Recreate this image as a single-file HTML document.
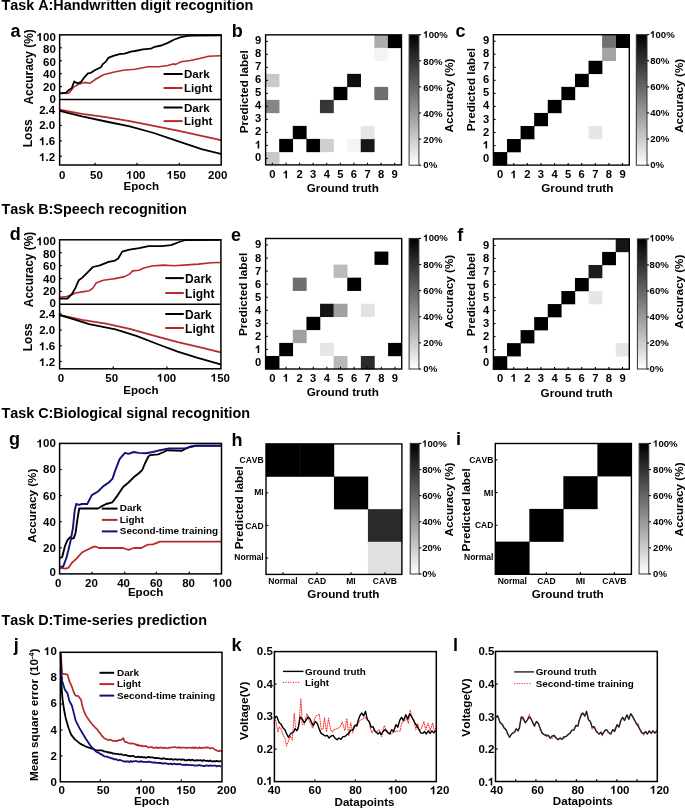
<!DOCTYPE html>
<html><head><meta charset="utf-8"><style>
html,body{margin:0;padding:0;background:#fff;}
svg{display:block;will-change:transform;}
text{font-family:"Liberation Sans",sans-serif;font-weight:bold;font-kerning:none;}
</style></head><body>
<svg width="685" height="808" viewBox="0 0 685 808">
<rect width="685" height="808" fill="#fff"/>
<text x="1.40" y="10.40" font-size="14.4" text-anchor="start" fill="#000">Task A:Handwritten digit recognition</text>
<text x="1.40" y="214.30" font-size="14.4" text-anchor="start" fill="#000">Task B:Speech recognition</text>
<text x="1.40" y="418.30" font-size="14.4" text-anchor="start" fill="#000">Task C:Biological signal recognition</text>
<text x="1.40" y="624.80" font-size="14.4" text-anchor="start" fill="#000">Task D:Time-series prediction</text>
<text x="10.40" y="36.50" font-size="18" text-anchor="start" fill="#000">a</text>
<text x="231.70" y="36.70" font-size="18" text-anchor="start" fill="#000">b</text>
<text x="455.40" y="36.70" font-size="18" text-anchor="start" fill="#000">c</text>
<text x="9.80" y="240.30" font-size="18" text-anchor="start" fill="#000">d</text>
<text x="231.00" y="240.70" font-size="18" text-anchor="start" fill="#000">e</text>
<text x="457.30" y="240.60" font-size="18" text-anchor="start" fill="#000">f</text>
<text x="9.00" y="445.20" font-size="18" text-anchor="start" fill="#000">g</text>
<text x="231.40" y="445.80" font-size="18" text-anchor="start" fill="#000">h</text>
<text x="456.00" y="444.80" font-size="18" text-anchor="start" fill="#000">i</text>
<text x="13.70" y="650.70" font-size="18" text-anchor="start" fill="#000">j</text>
<text x="231.50" y="650.90" font-size="18" text-anchor="start" fill="#000">k</text>
<text x="453.10" y="651.00" font-size="18" text-anchor="start" fill="#000">l</text>
<polyline points="60.00,93.50 68.60,93.30 70.50,91.40 73.60,87.10 78.60,84.30 84.80,82.40 89.70,83.30 96.00,79.00 103.40,74.70 113.30,72.20 123.20,70.30 135.00,69.20 148.10,66.80 158.70,66.80 167.80,65.50 173.10,63.90 175.70,64.40 181.00,61.80 190.20,60.50 200.70,58.20 208.60,56.30 220.40,55.80" fill="none" stroke="#b82a2a" stroke-width="1.6" stroke-linejoin="round" stroke-linecap="round"/>
<polyline points="60.00,93.30 66.20,92.70 68.60,90.20 71.70,88.30 74.20,81.50 77.30,83.30 81.00,82.10 83.50,78.40 87.90,73.40 91.00,72.80 94.70,70.30 100.90,67.20 102.80,64.10 105.90,61.60 108.30,57.90 113.30,55.80 119.50,54.20 124.50,53.60 131.90,51.30 135.00,51.00 142.90,49.40 150.80,48.70 154.70,46.80 161.30,45.50 167.80,42.90 174.40,39.50 181.00,37.20 187.60,35.90 194.10,35.50 221.00,35.30" fill="none" stroke="#000" stroke-width="1.8" stroke-linejoin="round" stroke-linecap="round"/>
<polyline points="59.80,109.60 81.90,113.90 105.90,117.20 129.80,121.10 153.80,125.90 177.70,130.60 201.60,135.90 220.80,140.20" fill="none" stroke="#b82a2a" stroke-width="1.7" stroke-linejoin="round" stroke-linecap="round"/>
<polyline points="59.80,110.80 81.90,116.30 105.90,121.50 129.80,126.30 153.80,133.00 177.70,141.20 201.60,149.10 220.80,153.90" fill="none" stroke="#000" stroke-width="1.8" stroke-linejoin="round" stroke-linecap="round"/>
<rect x="59.65" y="34.85" width="161.55" height="130.15" fill="none" stroke="#000" stroke-width="1.5"/>
<line x1="59.65" y1="99.60" x2="221.20" y2="99.60" stroke="#000" stroke-width="1.5"/>
<line x1="59.65" y1="86.65" x2="61.85" y2="86.65" stroke="#000" stroke-width="1.2"/>
<line x1="59.65" y1="73.70" x2="61.85" y2="73.70" stroke="#000" stroke-width="1.2"/>
<line x1="59.65" y1="60.75" x2="61.85" y2="60.75" stroke="#000" stroke-width="1.2"/>
<line x1="59.65" y1="47.80" x2="61.85" y2="47.80" stroke="#000" stroke-width="1.2"/>
<path d="M759 0H478V1000Q330 880 112 812V1052Q250 1100 362 1192Q466 1290 514 1409H759Z" fill="#000" transform="translate(36.613 40.959) scale(0.005615 -0.005615)"/>
<text x="55.80" y="40.96" font-size="11.5" text-anchor="end" fill="#000"> 00</text>
<text x="55.80" y="53.36" font-size="11.5" text-anchor="end" fill="#000">80</text>
<text x="55.80" y="65.86" font-size="11.5" text-anchor="end" fill="#000">60</text>
<text x="55.80" y="78.36" font-size="11.5" text-anchor="end" fill="#000">40</text>
<text x="55.80" y="91.06" font-size="11.5" text-anchor="end" fill="#000">20</text>
<text x="55.80" y="103.36" font-size="11.5" text-anchor="end" fill="#000">0</text>
<line x1="59.65" y1="110.90" x2="61.85" y2="110.90" stroke="#000" stroke-width="1.2"/>
<text x="55.20" y="114.26" font-size="11.5" text-anchor="end" fill="#000">2.4</text>
<line x1="59.65" y1="125.40" x2="61.85" y2="125.40" stroke="#000" stroke-width="1.2"/>
<text x="55.20" y="129.46" font-size="11.5" text-anchor="end" fill="#000">2.0</text>
<line x1="59.65" y1="140.90" x2="61.85" y2="140.90" stroke="#000" stroke-width="1.2"/>
<path d="M759 0H478V1000Q330 880 112 812V1052Q250 1100 362 1192Q466 1290 514 1409H759Z" fill="#000" transform="translate(39.213 145.260) scale(0.005615 -0.005615)"/>
<text x="55.20" y="145.26" font-size="11.5" text-anchor="end" fill="#000"> .6</text>
<line x1="59.65" y1="156.30" x2="61.85" y2="156.30" stroke="#000" stroke-width="1.2"/>
<path d="M759 0H478V1000Q330 880 112 812V1052Q250 1100 362 1192Q466 1290 514 1409H759Z" fill="#000" transform="translate(39.213 161.060) scale(0.005615 -0.005615)"/>
<text x="55.20" y="161.06" font-size="11.5" text-anchor="end" fill="#000"> .2</text>
<line x1="95.10" y1="165.00" x2="95.10" y2="162.80" stroke="#000" stroke-width="1.2"/>
<line x1="137.00" y1="165.00" x2="137.00" y2="162.80" stroke="#000" stroke-width="1.2"/>
<line x1="179.40" y1="165.00" x2="179.40" y2="162.80" stroke="#000" stroke-width="1.2"/>
<text x="62.20" y="178.86" font-size="11.5" text-anchor="middle" fill="#000">0</text>
<text x="96.40" y="178.86" font-size="11.5" text-anchor="middle" fill="#000">50</text>
<path d="M759 0H478V1000Q330 880 112 812V1052Q250 1100 362 1192Q466 1290 514 1409H759Z" fill="#000" transform="translate(126.306 178.860) scale(0.005615 -0.005615)"/>
<text x="135.90" y="178.86" font-size="11.5" text-anchor="middle" fill="#000"> 00</text>
<path d="M759 0H478V1000Q330 880 112 812V1052Q250 1100 362 1192Q466 1290 514 1409H759Z" fill="#000" transform="translate(166.806 178.860) scale(0.005615 -0.005615)"/>
<text x="176.40" y="178.86" font-size="11.5" text-anchor="middle" fill="#000"> 50</text>
<text x="217.70" y="178.86" font-size="11.5" text-anchor="middle" fill="#000">200</text>
<text x="141.25" y="190.00" font-size="11.6" text-anchor="middle" fill="#000">Epoch</text>
<text x="32.60" y="66.90" font-size="11.9" text-anchor="middle" fill="#000" transform="rotate(-90 32.60 66.90)">Accuracy (%)</text>
<text x="31.70" y="133.20" font-size="12.0" text-anchor="middle" fill="#000" transform="rotate(-90 31.70 133.20)">Loss</text>
<line x1="163.60" y1="74.00" x2="182.60" y2="74.00" stroke="#000" stroke-width="2.0"/>
<text x="184.00" y="78.39" font-size="11.6" text-anchor="start" fill="#000">Dark</text>
<line x1="163.60" y1="88.00" x2="182.60" y2="88.00" stroke="#b82a2a" stroke-width="2.0"/>
<text x="184.00" y="92.39" font-size="11.6" text-anchor="start" fill="#000">Light</text>
<line x1="163.60" y1="107.50" x2="182.60" y2="107.50" stroke="#000" stroke-width="2.0"/>
<text x="184.00" y="111.89" font-size="11.6" text-anchor="start" fill="#000">Dark</text>
<line x1="163.60" y1="121.10" x2="182.60" y2="121.10" stroke="#b82a2a" stroke-width="2.0"/>
<text x="184.00" y="125.49" font-size="11.6" text-anchor="start" fill="#000">Light</text>
<polyline points="59.60,297.20 66.60,296.50 71.80,294.70 75.30,293.00 82.30,291.90 89.30,290.70 92.90,288.10 96.40,282.80 103.40,280.20 112.10,279.00 115.00,278.60 124.60,276.60 129.50,274.10 132.70,270.90 139.10,270.20 143.90,268.10 151.90,266.00 163.20,265.10 174.40,265.70 187.30,264.90 198.50,264.10 211.40,262.80 220.20,262.50" fill="none" stroke="#b82a2a" stroke-width="1.6" stroke-linejoin="round" stroke-linecap="round"/>
<polyline points="59.60,298.60 67.40,298.60 71.80,294.20 75.30,288.10 78.80,280.20 82.30,277.60 87.60,272.30 92.90,267.00 99.90,265.30 108.60,261.80 115.00,260.60 118.20,258.50 122.20,251.60 129.50,249.70 139.10,248.10 148.70,246.10 161.60,246.10 171.20,245.20 179.20,242.00 185.70,240.00 220.50,239.80" fill="none" stroke="#000" stroke-width="1.8" stroke-linejoin="round" stroke-linecap="round"/>
<polyline points="59.60,314.80 81.90,319.80 105.90,323.70 129.80,328.90 153.80,335.60 177.70,342.10 201.60,347.60 220.60,352.40" fill="none" stroke="#b82a2a" stroke-width="1.7" stroke-linejoin="round" stroke-linecap="round"/>
<polyline points="59.60,315.10 72.40,318.90 89.10,324.20 115.50,329.40 137.00,336.10 158.60,344.50 177.70,351.70 196.90,357.70 220.60,364.40" fill="none" stroke="#000" stroke-width="1.8" stroke-linejoin="round" stroke-linecap="round"/>
<rect x="59.60" y="239.80" width="161.30" height="129.00" fill="none" stroke="#000" stroke-width="1.5"/>
<line x1="59.60" y1="304.30" x2="220.90" y2="304.30" stroke="#000" stroke-width="1.5"/>
<line x1="59.60" y1="291.40" x2="61.80" y2="291.40" stroke="#000" stroke-width="1.2"/>
<line x1="59.60" y1="278.50" x2="61.80" y2="278.50" stroke="#000" stroke-width="1.2"/>
<line x1="59.60" y1="265.60" x2="61.80" y2="265.60" stroke="#000" stroke-width="1.2"/>
<line x1="59.60" y1="252.70" x2="61.80" y2="252.70" stroke="#000" stroke-width="1.2"/>
<path d="M759 0H478V1000Q330 880 112 812V1052Q250 1100 362 1192Q466 1290 514 1409H759Z" fill="#000" transform="translate(36.613 245.260) scale(0.005615 -0.005615)"/>
<text x="55.80" y="245.26" font-size="11.5" text-anchor="end" fill="#000"> 00</text>
<text x="55.80" y="257.86" font-size="11.5" text-anchor="end" fill="#000">80</text>
<text x="55.80" y="270.36" font-size="11.5" text-anchor="end" fill="#000">60</text>
<text x="55.80" y="282.76" font-size="11.5" text-anchor="end" fill="#000">40</text>
<text x="55.80" y="295.46" font-size="11.5" text-anchor="end" fill="#000">20</text>
<text x="55.80" y="307.46" font-size="11.5" text-anchor="end" fill="#000">0</text>
<line x1="59.60" y1="314.00" x2="61.80" y2="314.00" stroke="#000" stroke-width="1.2"/>
<text x="55.20" y="318.06" font-size="11.5" text-anchor="end" fill="#000">2.4</text>
<line x1="59.60" y1="330.00" x2="61.80" y2="330.00" stroke="#000" stroke-width="1.2"/>
<text x="55.20" y="334.46" font-size="11.5" text-anchor="end" fill="#000">2.0</text>
<line x1="59.60" y1="345.80" x2="61.80" y2="345.80" stroke="#000" stroke-width="1.2"/>
<path d="M759 0H478V1000Q330 880 112 812V1052Q250 1100 362 1192Q466 1290 514 1409H759Z" fill="#000" transform="translate(39.213 350.260) scale(0.005615 -0.005615)"/>
<text x="55.20" y="350.26" font-size="11.5" text-anchor="end" fill="#000"> .6</text>
<line x1="59.60" y1="361.50" x2="61.80" y2="361.50" stroke="#000" stroke-width="1.2"/>
<path d="M759 0H478V1000Q330 880 112 812V1052Q250 1100 362 1192Q466 1290 514 1409H759Z" fill="#000" transform="translate(39.213 366.060) scale(0.005615 -0.005615)"/>
<text x="55.20" y="366.06" font-size="11.5" text-anchor="end" fill="#000"> .2</text>
<line x1="113.20" y1="368.80" x2="113.20" y2="366.60" stroke="#000" stroke-width="1.2"/>
<line x1="166.90" y1="368.80" x2="166.90" y2="366.60" stroke="#000" stroke-width="1.2"/>
<text x="60.90" y="381.56" font-size="11.5" text-anchor="middle" fill="#000">0</text>
<text x="111.70" y="381.56" font-size="11.5" text-anchor="middle" fill="#000">50</text>
<path d="M759 0H478V1000Q330 880 112 812V1052Q250 1100 362 1192Q466 1290 514 1409H759Z" fill="#000" transform="translate(157.006 381.560) scale(0.005615 -0.005615)"/>
<text x="166.60" y="381.56" font-size="11.5" text-anchor="middle" fill="#000"> 00</text>
<path d="M759 0H478V1000Q330 880 112 812V1052Q250 1100 362 1192Q466 1290 514 1409H759Z" fill="#000" transform="translate(210.806 381.560) scale(0.005615 -0.005615)"/>
<text x="220.40" y="381.56" font-size="11.5" text-anchor="middle" fill="#000"> 50</text>
<text x="140.90" y="394.00" font-size="11.6" text-anchor="middle" fill="#000">Epoch</text>
<text x="32.60" y="269.50" font-size="11.9" text-anchor="middle" fill="#000" transform="rotate(-90 32.60 269.50)">Accuracy (%)</text>
<text x="31.70" y="337.20" font-size="12.0" text-anchor="middle" fill="#000" transform="rotate(-90 31.70 337.20)">Loss</text>
<line x1="165.30" y1="278.10" x2="183.80" y2="278.10" stroke="#000" stroke-width="2.0"/>
<text x="185.10" y="282.64" font-size="12.0" text-anchor="start" fill="#000">Dark</text>
<line x1="165.30" y1="293.00" x2="183.80" y2="293.00" stroke="#b82a2a" stroke-width="2.0"/>
<text x="185.10" y="297.54" font-size="12.0" text-anchor="start" fill="#000">Light</text>
<line x1="165.30" y1="314.00" x2="183.80" y2="314.00" stroke="#000" stroke-width="2.0"/>
<text x="185.10" y="318.54" font-size="12.0" text-anchor="start" fill="#000">Dark</text>
<line x1="165.30" y1="328.00" x2="183.80" y2="328.00" stroke="#b82a2a" stroke-width="2.0"/>
<text x="185.10" y="332.54" font-size="12.0" text-anchor="start" fill="#000">Light</text>
<rect x="265.60" y="151.90" width="13.84" height="13.26" fill="rgb(201,201,201)"/>
<rect x="265.60" y="99.88" width="13.84" height="13.26" fill="rgb(134,134,134)"/>
<rect x="265.60" y="73.86" width="13.84" height="13.26" fill="rgb(201,201,201)"/>
<rect x="279.19" y="138.89" width="13.84" height="13.26" fill="rgb(0,0,0)"/>
<rect x="292.78" y="125.89" width="13.84" height="13.26" fill="rgb(0,0,0)"/>
<rect x="306.37" y="138.89" width="13.84" height="13.26" fill="rgb(0,0,0)"/>
<rect x="319.96" y="138.89" width="13.84" height="13.26" fill="rgb(207,207,207)"/>
<rect x="319.96" y="99.88" width="13.84" height="13.26" fill="rgb(54,54,54)"/>
<rect x="333.55" y="86.87" width="13.84" height="13.26" fill="rgb(0,0,0)"/>
<rect x="347.14" y="73.86" width="13.84" height="13.26" fill="rgb(14,14,14)"/>
<rect x="347.14" y="138.89" width="13.84" height="13.26" fill="rgb(244,244,244)"/>
<rect x="360.73" y="138.89" width="13.84" height="13.26" fill="rgb(23,23,23)"/>
<rect x="360.73" y="125.89" width="13.84" height="13.26" fill="rgb(230,230,230)"/>
<rect x="374.32" y="34.85" width="13.84" height="13.26" fill="rgb(172,172,172)"/>
<rect x="374.32" y="47.86" width="13.84" height="13.26" fill="rgb(244,244,244)"/>
<rect x="374.32" y="86.87" width="13.84" height="13.26" fill="rgb(110,110,110)"/>
<rect x="387.91" y="34.85" width="13.84" height="13.26" fill="rgb(0,0,0)"/>
<rect x="265.60" y="34.85" width="135.90" height="130.05" fill="none" stroke="#000" stroke-width="1.4"/>
<line x1="265.60" y1="158.40" x2="267.80" y2="158.40" stroke="#000" stroke-width="1.1"/>
<line x1="272.40" y1="164.90" x2="272.40" y2="162.70" stroke="#000" stroke-width="1.1"/>
<text x="261.30" y="161.45" font-size="11.2" text-anchor="end" fill="#000">0</text>
<text x="272.40" y="178.25" font-size="11.2" text-anchor="middle" fill="#000">0</text>
<line x1="265.60" y1="145.39" x2="267.80" y2="145.39" stroke="#000" stroke-width="1.1"/>
<line x1="285.99" y1="164.90" x2="285.99" y2="162.70" stroke="#000" stroke-width="1.1"/>
<path d="M759 0H478V1000Q330 880 112 812V1052Q250 1100 362 1192Q466 1290 514 1409H759Z" fill="#000" transform="translate(255.071 148.446) scale(0.005469 -0.005469)"/>
<text x="261.30" y="148.45" font-size="11.2" text-anchor="end" fill="#000"> </text>
<path d="M759 0H478V1000Q330 880 112 812V1052Q250 1100 362 1192Q466 1290 514 1409H759Z" fill="#000" transform="translate(282.871 178.254) scale(0.005469 -0.005469)"/>
<text x="285.99" y="178.25" font-size="11.2" text-anchor="middle" fill="#000"> </text>
<line x1="265.60" y1="132.39" x2="267.80" y2="132.39" stroke="#000" stroke-width="1.1"/>
<line x1="299.58" y1="164.90" x2="299.58" y2="162.70" stroke="#000" stroke-width="1.1"/>
<text x="261.30" y="135.44" font-size="11.2" text-anchor="end" fill="#000">2</text>
<text x="299.58" y="178.25" font-size="11.2" text-anchor="middle" fill="#000">2</text>
<line x1="265.60" y1="119.38" x2="267.80" y2="119.38" stroke="#000" stroke-width="1.1"/>
<line x1="313.17" y1="164.90" x2="313.17" y2="162.70" stroke="#000" stroke-width="1.1"/>
<text x="261.30" y="122.44" font-size="11.2" text-anchor="end" fill="#000">3</text>
<text x="313.17" y="178.25" font-size="11.2" text-anchor="middle" fill="#000">3</text>
<line x1="265.60" y1="106.38" x2="267.80" y2="106.38" stroke="#000" stroke-width="1.1"/>
<line x1="326.75" y1="164.90" x2="326.75" y2="162.70" stroke="#000" stroke-width="1.1"/>
<text x="261.30" y="109.43" font-size="11.2" text-anchor="end" fill="#000">4</text>
<text x="326.75" y="178.25" font-size="11.2" text-anchor="middle" fill="#000">4</text>
<line x1="265.60" y1="93.37" x2="267.80" y2="93.37" stroke="#000" stroke-width="1.1"/>
<line x1="340.35" y1="164.90" x2="340.35" y2="162.70" stroke="#000" stroke-width="1.1"/>
<text x="261.30" y="96.43" font-size="11.2" text-anchor="end" fill="#000">5</text>
<text x="340.35" y="178.25" font-size="11.2" text-anchor="middle" fill="#000">5</text>
<line x1="265.60" y1="80.37" x2="267.80" y2="80.37" stroke="#000" stroke-width="1.1"/>
<line x1="353.94" y1="164.90" x2="353.94" y2="162.70" stroke="#000" stroke-width="1.1"/>
<text x="261.30" y="83.42" font-size="11.2" text-anchor="end" fill="#000">6</text>
<text x="353.94" y="178.25" font-size="11.2" text-anchor="middle" fill="#000">6</text>
<line x1="265.60" y1="67.36" x2="267.80" y2="67.36" stroke="#000" stroke-width="1.1"/>
<line x1="367.52" y1="164.90" x2="367.52" y2="162.70" stroke="#000" stroke-width="1.1"/>
<text x="261.30" y="70.42" font-size="11.2" text-anchor="end" fill="#000">7</text>
<text x="367.52" y="178.25" font-size="11.2" text-anchor="middle" fill="#000">7</text>
<line x1="265.60" y1="54.36" x2="267.80" y2="54.36" stroke="#000" stroke-width="1.1"/>
<line x1="381.12" y1="164.90" x2="381.12" y2="162.70" stroke="#000" stroke-width="1.1"/>
<text x="261.30" y="57.41" font-size="11.2" text-anchor="end" fill="#000">8</text>
<text x="381.12" y="178.25" font-size="11.2" text-anchor="middle" fill="#000">8</text>
<line x1="265.60" y1="41.35" x2="267.80" y2="41.35" stroke="#000" stroke-width="1.1"/>
<line x1="394.71" y1="164.90" x2="394.71" y2="162.70" stroke="#000" stroke-width="1.1"/>
<text x="261.30" y="44.41" font-size="11.2" text-anchor="end" fill="#000">9</text>
<text x="394.71" y="178.25" font-size="11.2" text-anchor="middle" fill="#000">9</text>
<defs><linearGradient id="g409_34" x1="0" y1="1" x2="0" y2="0"><stop offset="0.000" stop-color="rgb(255,255,255)"/><stop offset="0.050" stop-color="rgb(242,242,242)"/><stop offset="0.100" stop-color="rgb(229,229,229)"/><stop offset="0.150" stop-color="rgb(216,216,216)"/><stop offset="0.200" stop-color="rgb(204,204,204)"/><stop offset="0.250" stop-color="rgb(191,191,191)"/><stop offset="0.300" stop-color="rgb(178,178,178)"/><stop offset="0.350" stop-color="rgb(165,165,165)"/><stop offset="0.400" stop-color="rgb(153,153,153)"/><stop offset="0.450" stop-color="rgb(140,140,140)"/><stop offset="0.500" stop-color="rgb(127,127,127)"/><stop offset="0.550" stop-color="rgb(114,114,114)"/><stop offset="0.600" stop-color="rgb(102,102,102)"/><stop offset="0.650" stop-color="rgb(89,89,89)"/><stop offset="0.700" stop-color="rgb(76,76,76)"/><stop offset="0.750" stop-color="rgb(63,63,63)"/><stop offset="0.800" stop-color="rgb(50,50,50)"/><stop offset="0.850" stop-color="rgb(38,38,38)"/><stop offset="0.900" stop-color="rgb(25,25,25)"/><stop offset="0.950" stop-color="rgb(12,12,12)"/><stop offset="1.000" stop-color="rgb(0,0,0)"/></linearGradient></defs>
<rect x="409.10" y="34.70" width="9.80" height="130.50" fill="url(#g409_34)" stroke="#333" stroke-width="1"/>
<line x1="418.90" y1="165.20" x2="421.10" y2="165.20" stroke="#000" stroke-width="1.1"/>
<text x="423.30" y="167.79" font-size="9.6" text-anchor="start" fill="#000">0%</text>
<line x1="418.90" y1="139.10" x2="421.10" y2="139.10" stroke="#000" stroke-width="1.1"/>
<text x="423.30" y="142.69" font-size="9.6" text-anchor="start" fill="#000">20%</text>
<line x1="418.90" y1="113.00" x2="421.10" y2="113.00" stroke="#000" stroke-width="1.1"/>
<text x="423.30" y="116.69" font-size="9.6" text-anchor="start" fill="#000">40%</text>
<line x1="418.90" y1="86.90" x2="421.10" y2="86.90" stroke="#000" stroke-width="1.1"/>
<text x="423.30" y="90.59" font-size="9.6" text-anchor="start" fill="#000">60%</text>
<line x1="418.90" y1="60.80" x2="421.10" y2="60.80" stroke="#000" stroke-width="1.1"/>
<text x="423.30" y="64.59" font-size="9.6" text-anchor="start" fill="#000">80%</text>
<line x1="418.90" y1="34.70" x2="421.10" y2="34.70" stroke="#000" stroke-width="1.1"/>
<path d="M759 0H478V1000Q330 880 112 812V1052Q250 1100 362 1192Q466 1290 514 1409H759Z" fill="#000" transform="translate(423.300 37.689) scale(0.004687 -0.004687)"/>
<text x="423.30" y="37.69" font-size="9.6" text-anchor="start" fill="#000"> 00%</text>
<text x="452.90" y="95.50" font-size="11.7" text-anchor="middle" fill="#000" transform="rotate(-90 452.90 95.50)">Accuracy (%)</text>
<text x="342.80" y="191.90" font-size="11.7" text-anchor="middle" fill="#000">Ground truth</text>
<text x="247.60" y="91.70" font-size="11.7" text-anchor="middle" fill="#000" transform="rotate(-90 247.60 91.70)">Predicted label</text>
<rect x="493.40" y="152.06" width="13.84" height="13.29" fill="rgb(0,0,0)"/>
<rect x="506.99" y="139.02" width="13.84" height="13.29" fill="rgb(0,0,0)"/>
<rect x="520.58" y="125.98" width="13.84" height="13.29" fill="rgb(0,0,0)"/>
<rect x="534.17" y="112.94" width="13.84" height="13.29" fill="rgb(0,0,0)"/>
<rect x="547.76" y="99.90" width="13.84" height="13.29" fill="rgb(0,0,0)"/>
<rect x="561.35" y="86.86" width="13.84" height="13.29" fill="rgb(0,0,0)"/>
<rect x="574.94" y="73.82" width="13.84" height="13.29" fill="rgb(0,0,0)"/>
<rect x="588.53" y="60.78" width="13.84" height="13.29" fill="rgb(0,0,0)"/>
<rect x="615.71" y="34.70" width="13.84" height="13.29" fill="rgb(0,0,0)"/>
<rect x="602.12" y="34.70" width="13.84" height="13.29" fill="rgb(112,112,112)"/>
<rect x="602.12" y="47.74" width="13.84" height="13.29" fill="rgb(164,164,164)"/>
<rect x="588.53" y="125.98" width="13.84" height="13.29" fill="rgb(230,230,230)"/>
<rect x="493.40" y="34.70" width="135.90" height="130.40" fill="none" stroke="#000" stroke-width="1.4"/>
<line x1="493.40" y1="158.58" x2="495.60" y2="158.58" stroke="#000" stroke-width="1.1"/>
<line x1="500.19" y1="165.10" x2="500.19" y2="162.90" stroke="#000" stroke-width="1.1"/>
<text x="489.20" y="161.63" font-size="11.2" text-anchor="end" fill="#000">0</text>
<text x="500.19" y="178.25" font-size="11.2" text-anchor="middle" fill="#000">0</text>
<line x1="493.40" y1="145.54" x2="495.60" y2="145.54" stroke="#000" stroke-width="1.1"/>
<line x1="513.78" y1="165.10" x2="513.78" y2="162.90" stroke="#000" stroke-width="1.1"/>
<path d="M759 0H478V1000Q330 880 112 812V1052Q250 1100 362 1192Q466 1290 514 1409H759Z" fill="#000" transform="translate(482.971 148.594) scale(0.005469 -0.005469)"/>
<text x="489.20" y="148.59" font-size="11.2" text-anchor="end" fill="#000"> </text>
<path d="M759 0H478V1000Q330 880 112 812V1052Q250 1100 362 1192Q466 1290 514 1409H759Z" fill="#000" transform="translate(510.671 178.254) scale(0.005469 -0.005469)"/>
<text x="513.78" y="178.25" font-size="11.2" text-anchor="middle" fill="#000"> </text>
<line x1="493.40" y1="132.50" x2="495.60" y2="132.50" stroke="#000" stroke-width="1.1"/>
<line x1="527.38" y1="165.10" x2="527.38" y2="162.90" stroke="#000" stroke-width="1.1"/>
<text x="489.20" y="135.55" font-size="11.2" text-anchor="end" fill="#000">2</text>
<text x="527.38" y="178.25" font-size="11.2" text-anchor="middle" fill="#000">2</text>
<line x1="493.40" y1="119.46" x2="495.60" y2="119.46" stroke="#000" stroke-width="1.1"/>
<line x1="540.96" y1="165.10" x2="540.96" y2="162.90" stroke="#000" stroke-width="1.1"/>
<text x="489.20" y="122.51" font-size="11.2" text-anchor="end" fill="#000">3</text>
<text x="540.96" y="178.25" font-size="11.2" text-anchor="middle" fill="#000">3</text>
<line x1="493.40" y1="106.42" x2="495.60" y2="106.42" stroke="#000" stroke-width="1.1"/>
<line x1="554.55" y1="165.10" x2="554.55" y2="162.90" stroke="#000" stroke-width="1.1"/>
<text x="489.20" y="109.47" font-size="11.2" text-anchor="end" fill="#000">4</text>
<text x="554.55" y="178.25" font-size="11.2" text-anchor="middle" fill="#000">4</text>
<line x1="493.40" y1="93.38" x2="495.60" y2="93.38" stroke="#000" stroke-width="1.1"/>
<line x1="568.14" y1="165.10" x2="568.14" y2="162.90" stroke="#000" stroke-width="1.1"/>
<text x="489.20" y="96.43" font-size="11.2" text-anchor="end" fill="#000">5</text>
<text x="568.14" y="178.25" font-size="11.2" text-anchor="middle" fill="#000">5</text>
<line x1="493.40" y1="80.34" x2="495.60" y2="80.34" stroke="#000" stroke-width="1.1"/>
<line x1="581.74" y1="165.10" x2="581.74" y2="162.90" stroke="#000" stroke-width="1.1"/>
<text x="489.20" y="83.39" font-size="11.2" text-anchor="end" fill="#000">6</text>
<text x="581.74" y="178.25" font-size="11.2" text-anchor="middle" fill="#000">6</text>
<line x1="493.40" y1="67.30" x2="495.60" y2="67.30" stroke="#000" stroke-width="1.1"/>
<line x1="595.32" y1="165.10" x2="595.32" y2="162.90" stroke="#000" stroke-width="1.1"/>
<text x="489.20" y="70.35" font-size="11.2" text-anchor="end" fill="#000">7</text>
<text x="595.32" y="178.25" font-size="11.2" text-anchor="middle" fill="#000">7</text>
<line x1="493.40" y1="54.26" x2="495.60" y2="54.26" stroke="#000" stroke-width="1.1"/>
<line x1="608.91" y1="165.10" x2="608.91" y2="162.90" stroke="#000" stroke-width="1.1"/>
<text x="489.20" y="57.31" font-size="11.2" text-anchor="end" fill="#000">8</text>
<text x="608.91" y="178.25" font-size="11.2" text-anchor="middle" fill="#000">8</text>
<line x1="493.40" y1="41.22" x2="495.60" y2="41.22" stroke="#000" stroke-width="1.1"/>
<line x1="622.50" y1="165.10" x2="622.50" y2="162.90" stroke="#000" stroke-width="1.1"/>
<text x="489.20" y="44.27" font-size="11.2" text-anchor="end" fill="#000">9</text>
<text x="622.50" y="178.25" font-size="11.2" text-anchor="middle" fill="#000">9</text>
<defs><linearGradient id="g636_34" x1="0" y1="1" x2="0" y2="0"><stop offset="0.000" stop-color="rgb(255,255,255)"/><stop offset="0.050" stop-color="rgb(242,242,242)"/><stop offset="0.100" stop-color="rgb(229,229,229)"/><stop offset="0.150" stop-color="rgb(216,216,216)"/><stop offset="0.200" stop-color="rgb(204,204,204)"/><stop offset="0.250" stop-color="rgb(191,191,191)"/><stop offset="0.300" stop-color="rgb(178,178,178)"/><stop offset="0.350" stop-color="rgb(165,165,165)"/><stop offset="0.400" stop-color="rgb(153,153,153)"/><stop offset="0.450" stop-color="rgb(140,140,140)"/><stop offset="0.500" stop-color="rgb(127,127,127)"/><stop offset="0.550" stop-color="rgb(114,114,114)"/><stop offset="0.600" stop-color="rgb(102,102,102)"/><stop offset="0.650" stop-color="rgb(89,89,89)"/><stop offset="0.700" stop-color="rgb(76,76,76)"/><stop offset="0.750" stop-color="rgb(63,63,63)"/><stop offset="0.800" stop-color="rgb(50,50,50)"/><stop offset="0.850" stop-color="rgb(38,38,38)"/><stop offset="0.900" stop-color="rgb(25,25,25)"/><stop offset="0.950" stop-color="rgb(12,12,12)"/><stop offset="1.000" stop-color="rgb(0,0,0)"/></linearGradient></defs>
<rect x="636.30" y="34.60" width="10.70" height="130.60" fill="url(#g636_34)" stroke="#333" stroke-width="1"/>
<line x1="647.00" y1="165.20" x2="649.20" y2="165.20" stroke="#000" stroke-width="1.1"/>
<text x="650.20" y="167.79" font-size="9.6" text-anchor="start" fill="#000">0%</text>
<line x1="647.00" y1="139.08" x2="649.20" y2="139.08" stroke="#000" stroke-width="1.1"/>
<text x="650.20" y="142.49" font-size="9.6" text-anchor="start" fill="#000">20%</text>
<line x1="647.00" y1="112.96" x2="649.20" y2="112.96" stroke="#000" stroke-width="1.1"/>
<text x="650.20" y="116.09" font-size="9.6" text-anchor="start" fill="#000">40%</text>
<line x1="647.00" y1="86.84" x2="649.20" y2="86.84" stroke="#000" stroke-width="1.1"/>
<text x="650.20" y="89.99" font-size="9.6" text-anchor="start" fill="#000">60%</text>
<line x1="647.00" y1="60.72" x2="649.20" y2="60.72" stroke="#000" stroke-width="1.1"/>
<text x="650.20" y="63.99" font-size="9.6" text-anchor="start" fill="#000">80%</text>
<line x1="647.00" y1="34.60" x2="649.20" y2="34.60" stroke="#000" stroke-width="1.1"/>
<path d="M759 0H478V1000Q330 880 112 812V1052Q250 1100 362 1192Q466 1290 514 1409H759Z" fill="#000" transform="translate(650.200 37.689) scale(0.004687 -0.004687)"/>
<text x="650.20" y="37.69" font-size="9.6" text-anchor="start" fill="#000"> 00%</text>
<text x="683.40" y="95.80" font-size="11.7" text-anchor="middle" fill="#000" transform="rotate(-90 683.40 95.80)">Accuracy (%)</text>
<text x="577.30" y="192.30" font-size="11.7" text-anchor="middle" fill="#000">Ground truth</text>
<text x="475.10" y="89.60" font-size="11.7" text-anchor="middle" fill="#000" transform="rotate(-90 475.10 89.60)">Predicted label</text>
<rect x="374.48" y="251.55" width="13.86" height="13.30" fill="rgb(0,0,0)"/>
<rect x="333.65" y="264.60" width="13.86" height="13.30" fill="rgb(187,187,187)"/>
<rect x="292.82" y="277.65" width="13.86" height="13.30" fill="rgb(110,110,110)"/>
<rect x="347.26" y="277.65" width="13.86" height="13.30" fill="rgb(0,0,0)"/>
<rect x="320.04" y="303.75" width="13.86" height="13.30" fill="rgb(20,20,20)"/>
<rect x="333.65" y="303.75" width="13.86" height="13.30" fill="rgb(160,160,160)"/>
<rect x="360.87" y="303.75" width="13.86" height="13.30" fill="rgb(226,226,226)"/>
<rect x="306.43" y="316.80" width="13.86" height="13.30" fill="rgb(0,0,0)"/>
<rect x="292.82" y="329.85" width="13.86" height="13.30" fill="rgb(160,160,160)"/>
<rect x="279.21" y="342.90" width="13.86" height="13.30" fill="rgb(0,0,0)"/>
<rect x="320.04" y="342.90" width="13.86" height="13.30" fill="rgb(230,230,230)"/>
<rect x="388.09" y="342.90" width="13.86" height="13.30" fill="rgb(0,0,0)"/>
<rect x="265.60" y="355.95" width="13.86" height="13.30" fill="rgb(0,0,0)"/>
<rect x="333.65" y="355.95" width="13.86" height="13.30" fill="rgb(184,184,184)"/>
<rect x="360.87" y="355.95" width="13.86" height="13.30" fill="rgb(44,44,44)"/>
<rect x="265.60" y="238.50" width="136.10" height="130.50" fill="none" stroke="#000" stroke-width="1.4"/>
<line x1="265.60" y1="362.48" x2="267.80" y2="362.48" stroke="#000" stroke-width="1.1"/>
<line x1="272.41" y1="369.00" x2="272.41" y2="366.80" stroke="#000" stroke-width="1.1"/>
<text x="261.30" y="365.93" font-size="11.2" text-anchor="end" fill="#000">0</text>
<text x="272.41" y="381.75" font-size="11.2" text-anchor="middle" fill="#000">0</text>
<line x1="265.60" y1="349.43" x2="267.80" y2="349.43" stroke="#000" stroke-width="1.1"/>
<line x1="286.01" y1="369.00" x2="286.01" y2="366.80" stroke="#000" stroke-width="1.1"/>
<path d="M759 0H478V1000Q330 880 112 812V1052Q250 1100 362 1192Q466 1290 514 1409H759Z" fill="#000" transform="translate(255.071 352.879) scale(0.005469 -0.005469)"/>
<text x="261.30" y="352.88" font-size="11.2" text-anchor="end" fill="#000"> </text>
<path d="M759 0H478V1000Q330 880 112 812V1052Q250 1100 362 1192Q466 1290 514 1409H759Z" fill="#000" transform="translate(282.901 381.754) scale(0.005469 -0.005469)"/>
<text x="286.01" y="381.75" font-size="11.2" text-anchor="middle" fill="#000"> </text>
<line x1="265.60" y1="336.38" x2="267.80" y2="336.38" stroke="#000" stroke-width="1.1"/>
<line x1="299.62" y1="369.00" x2="299.62" y2="366.80" stroke="#000" stroke-width="1.1"/>
<text x="261.30" y="339.83" font-size="11.2" text-anchor="end" fill="#000">2</text>
<text x="299.62" y="381.75" font-size="11.2" text-anchor="middle" fill="#000">2</text>
<line x1="265.60" y1="323.32" x2="267.80" y2="323.32" stroke="#000" stroke-width="1.1"/>
<line x1="313.24" y1="369.00" x2="313.24" y2="366.80" stroke="#000" stroke-width="1.1"/>
<text x="261.30" y="326.78" font-size="11.2" text-anchor="end" fill="#000">3</text>
<text x="313.24" y="381.75" font-size="11.2" text-anchor="middle" fill="#000">3</text>
<line x1="265.60" y1="310.27" x2="267.80" y2="310.27" stroke="#000" stroke-width="1.1"/>
<line x1="326.85" y1="369.00" x2="326.85" y2="366.80" stroke="#000" stroke-width="1.1"/>
<text x="261.30" y="313.73" font-size="11.2" text-anchor="end" fill="#000">4</text>
<text x="326.85" y="381.75" font-size="11.2" text-anchor="middle" fill="#000">4</text>
<line x1="265.60" y1="297.23" x2="267.80" y2="297.23" stroke="#000" stroke-width="1.1"/>
<line x1="340.45" y1="369.00" x2="340.45" y2="366.80" stroke="#000" stroke-width="1.1"/>
<text x="261.30" y="300.68" font-size="11.2" text-anchor="end" fill="#000">5</text>
<text x="340.45" y="381.75" font-size="11.2" text-anchor="middle" fill="#000">5</text>
<line x1="265.60" y1="284.18" x2="267.80" y2="284.18" stroke="#000" stroke-width="1.1"/>
<line x1="354.06" y1="369.00" x2="354.06" y2="366.80" stroke="#000" stroke-width="1.1"/>
<text x="261.30" y="287.63" font-size="11.2" text-anchor="end" fill="#000">6</text>
<text x="354.06" y="381.75" font-size="11.2" text-anchor="middle" fill="#000">6</text>
<line x1="265.60" y1="271.12" x2="267.80" y2="271.12" stroke="#000" stroke-width="1.1"/>
<line x1="367.68" y1="369.00" x2="367.68" y2="366.80" stroke="#000" stroke-width="1.1"/>
<text x="261.30" y="274.58" font-size="11.2" text-anchor="end" fill="#000">7</text>
<text x="367.68" y="381.75" font-size="11.2" text-anchor="middle" fill="#000">7</text>
<line x1="265.60" y1="258.07" x2="267.80" y2="258.07" stroke="#000" stroke-width="1.1"/>
<line x1="381.28" y1="369.00" x2="381.28" y2="366.80" stroke="#000" stroke-width="1.1"/>
<text x="261.30" y="261.53" font-size="11.2" text-anchor="end" fill="#000">8</text>
<text x="381.28" y="381.75" font-size="11.2" text-anchor="middle" fill="#000">8</text>
<line x1="265.60" y1="245.02" x2="267.80" y2="245.02" stroke="#000" stroke-width="1.1"/>
<line x1="394.89" y1="369.00" x2="394.89" y2="366.80" stroke="#000" stroke-width="1.1"/>
<text x="261.30" y="248.48" font-size="11.2" text-anchor="end" fill="#000">9</text>
<text x="394.89" y="381.75" font-size="11.2" text-anchor="middle" fill="#000">9</text>
<defs><linearGradient id="g409_238" x1="0" y1="1" x2="0" y2="0"><stop offset="0.000" stop-color="rgb(255,255,255)"/><stop offset="0.050" stop-color="rgb(242,242,242)"/><stop offset="0.100" stop-color="rgb(229,229,229)"/><stop offset="0.150" stop-color="rgb(216,216,216)"/><stop offset="0.200" stop-color="rgb(204,204,204)"/><stop offset="0.250" stop-color="rgb(191,191,191)"/><stop offset="0.300" stop-color="rgb(178,178,178)"/><stop offset="0.350" stop-color="rgb(165,165,165)"/><stop offset="0.400" stop-color="rgb(153,153,153)"/><stop offset="0.450" stop-color="rgb(140,140,140)"/><stop offset="0.500" stop-color="rgb(127,127,127)"/><stop offset="0.550" stop-color="rgb(114,114,114)"/><stop offset="0.600" stop-color="rgb(102,102,102)"/><stop offset="0.650" stop-color="rgb(89,89,89)"/><stop offset="0.700" stop-color="rgb(76,76,76)"/><stop offset="0.750" stop-color="rgb(63,63,63)"/><stop offset="0.800" stop-color="rgb(50,50,50)"/><stop offset="0.850" stop-color="rgb(38,38,38)"/><stop offset="0.900" stop-color="rgb(25,25,25)"/><stop offset="0.950" stop-color="rgb(12,12,12)"/><stop offset="1.000" stop-color="rgb(0,0,0)"/></linearGradient></defs>
<rect x="409.10" y="238.40" width="9.80" height="130.60" fill="url(#g409_238)" stroke="#333" stroke-width="1"/>
<line x1="418.90" y1="369.00" x2="421.10" y2="369.00" stroke="#000" stroke-width="1.1"/>
<text x="423.30" y="371.79" font-size="9.6" text-anchor="start" fill="#000">0%</text>
<line x1="418.90" y1="342.88" x2="421.10" y2="342.88" stroke="#000" stroke-width="1.1"/>
<text x="423.30" y="345.79" font-size="9.6" text-anchor="start" fill="#000">20%</text>
<line x1="418.90" y1="316.76" x2="421.10" y2="316.76" stroke="#000" stroke-width="1.1"/>
<text x="423.30" y="319.79" font-size="9.6" text-anchor="start" fill="#000">40%</text>
<line x1="418.90" y1="290.64" x2="421.10" y2="290.64" stroke="#000" stroke-width="1.1"/>
<text x="423.30" y="293.79" font-size="9.6" text-anchor="start" fill="#000">60%</text>
<line x1="418.90" y1="264.52" x2="421.10" y2="264.52" stroke="#000" stroke-width="1.1"/>
<text x="423.30" y="267.79" font-size="9.6" text-anchor="start" fill="#000">80%</text>
<line x1="418.90" y1="238.40" x2="421.10" y2="238.40" stroke="#000" stroke-width="1.1"/>
<path d="M759 0H478V1000Q330 880 112 812V1052Q250 1100 362 1192Q466 1290 514 1409H759Z" fill="#000" transform="translate(423.300 241.189) scale(0.004687 -0.004687)"/>
<text x="423.30" y="241.19" font-size="9.6" text-anchor="start" fill="#000"> 00%</text>
<text x="452.90" y="291.80" font-size="11.7" text-anchor="middle" fill="#000" transform="rotate(-90 452.90 291.80)">Accuracy (%)</text>
<text x="342.80" y="396.30" font-size="11.7" text-anchor="middle" fill="#000">Ground truth</text>
<text x="247.50" y="294.40" font-size="11.7" text-anchor="middle" fill="#000" transform="rotate(-90 247.50 294.40)">Predicted label</text>
<rect x="493.40" y="356.17" width="13.84" height="13.28" fill="rgb(0,0,0)"/>
<rect x="506.99" y="343.14" width="13.84" height="13.28" fill="rgb(0,0,0)"/>
<rect x="520.58" y="330.11" width="13.84" height="13.28" fill="rgb(0,0,0)"/>
<rect x="534.17" y="317.08" width="13.84" height="13.28" fill="rgb(0,0,0)"/>
<rect x="547.76" y="304.05" width="13.84" height="13.28" fill="rgb(0,0,0)"/>
<rect x="561.35" y="291.02" width="13.84" height="13.28" fill="rgb(0,0,0)"/>
<rect x="574.94" y="277.99" width="13.84" height="13.28" fill="rgb(0,0,0)"/>
<rect x="588.53" y="264.96" width="13.84" height="13.28" fill="rgb(28,28,28)"/>
<rect x="602.12" y="251.93" width="13.84" height="13.28" fill="rgb(0,0,0)"/>
<rect x="615.71" y="238.90" width="13.84" height="13.28" fill="rgb(22,22,22)"/>
<rect x="588.53" y="291.02" width="13.84" height="13.28" fill="rgb(230,230,230)"/>
<rect x="615.71" y="343.14" width="13.84" height="13.28" fill="rgb(230,230,230)"/>
<rect x="493.40" y="238.90" width="135.90" height="130.30" fill="none" stroke="#000" stroke-width="1.4"/>
<line x1="493.40" y1="362.69" x2="495.60" y2="362.69" stroke="#000" stroke-width="1.1"/>
<line x1="500.19" y1="369.20" x2="500.19" y2="367.00" stroke="#000" stroke-width="1.1"/>
<text x="489.20" y="366.14" font-size="11.2" text-anchor="end" fill="#000">0</text>
<text x="500.19" y="381.75" font-size="11.2" text-anchor="middle" fill="#000">0</text>
<line x1="493.40" y1="349.65" x2="495.60" y2="349.65" stroke="#000" stroke-width="1.1"/>
<line x1="513.78" y1="369.20" x2="513.78" y2="367.00" stroke="#000" stroke-width="1.1"/>
<path d="M759 0H478V1000Q330 880 112 812V1052Q250 1100 362 1192Q466 1290 514 1409H759Z" fill="#000" transform="translate(482.971 353.109) scale(0.005469 -0.005469)"/>
<text x="489.20" y="353.11" font-size="11.2" text-anchor="end" fill="#000"> </text>
<path d="M759 0H478V1000Q330 880 112 812V1052Q250 1100 362 1192Q466 1290 514 1409H759Z" fill="#000" transform="translate(510.671 381.754) scale(0.005469 -0.005469)"/>
<text x="513.78" y="381.75" font-size="11.2" text-anchor="middle" fill="#000"> </text>
<line x1="493.40" y1="336.62" x2="495.60" y2="336.62" stroke="#000" stroke-width="1.1"/>
<line x1="527.38" y1="369.20" x2="527.38" y2="367.00" stroke="#000" stroke-width="1.1"/>
<text x="489.20" y="340.08" font-size="11.2" text-anchor="end" fill="#000">2</text>
<text x="527.38" y="381.75" font-size="11.2" text-anchor="middle" fill="#000">2</text>
<line x1="493.40" y1="323.60" x2="495.60" y2="323.60" stroke="#000" stroke-width="1.1"/>
<line x1="540.96" y1="369.20" x2="540.96" y2="367.00" stroke="#000" stroke-width="1.1"/>
<text x="489.20" y="327.05" font-size="11.2" text-anchor="end" fill="#000">3</text>
<text x="540.96" y="381.75" font-size="11.2" text-anchor="middle" fill="#000">3</text>
<line x1="493.40" y1="310.56" x2="495.60" y2="310.56" stroke="#000" stroke-width="1.1"/>
<line x1="554.55" y1="369.20" x2="554.55" y2="367.00" stroke="#000" stroke-width="1.1"/>
<text x="489.20" y="314.02" font-size="11.2" text-anchor="end" fill="#000">4</text>
<text x="554.55" y="381.75" font-size="11.2" text-anchor="middle" fill="#000">4</text>
<line x1="493.40" y1="297.53" x2="495.60" y2="297.53" stroke="#000" stroke-width="1.1"/>
<line x1="568.14" y1="369.20" x2="568.14" y2="367.00" stroke="#000" stroke-width="1.1"/>
<text x="489.20" y="300.99" font-size="11.2" text-anchor="end" fill="#000">5</text>
<text x="568.14" y="381.75" font-size="11.2" text-anchor="middle" fill="#000">5</text>
<line x1="493.40" y1="284.50" x2="495.60" y2="284.50" stroke="#000" stroke-width="1.1"/>
<line x1="581.74" y1="369.20" x2="581.74" y2="367.00" stroke="#000" stroke-width="1.1"/>
<text x="489.20" y="287.96" font-size="11.2" text-anchor="end" fill="#000">6</text>
<text x="581.74" y="381.75" font-size="11.2" text-anchor="middle" fill="#000">6</text>
<line x1="493.40" y1="271.48" x2="495.60" y2="271.48" stroke="#000" stroke-width="1.1"/>
<line x1="595.32" y1="369.20" x2="595.32" y2="367.00" stroke="#000" stroke-width="1.1"/>
<text x="489.20" y="274.93" font-size="11.2" text-anchor="end" fill="#000">7</text>
<text x="595.32" y="381.75" font-size="11.2" text-anchor="middle" fill="#000">7</text>
<line x1="493.40" y1="258.44" x2="495.60" y2="258.44" stroke="#000" stroke-width="1.1"/>
<line x1="608.91" y1="369.20" x2="608.91" y2="367.00" stroke="#000" stroke-width="1.1"/>
<text x="489.20" y="261.90" font-size="11.2" text-anchor="end" fill="#000">8</text>
<text x="608.91" y="381.75" font-size="11.2" text-anchor="middle" fill="#000">8</text>
<line x1="493.40" y1="245.42" x2="495.60" y2="245.42" stroke="#000" stroke-width="1.1"/>
<line x1="622.50" y1="369.20" x2="622.50" y2="367.00" stroke="#000" stroke-width="1.1"/>
<text x="489.20" y="248.87" font-size="11.2" text-anchor="end" fill="#000">9</text>
<text x="622.50" y="381.75" font-size="11.2" text-anchor="middle" fill="#000">9</text>
<defs><linearGradient id="g637_238" x1="0" y1="1" x2="0" y2="0"><stop offset="0.000" stop-color="rgb(255,255,255)"/><stop offset="0.050" stop-color="rgb(242,242,242)"/><stop offset="0.100" stop-color="rgb(229,229,229)"/><stop offset="0.150" stop-color="rgb(216,216,216)"/><stop offset="0.200" stop-color="rgb(204,204,204)"/><stop offset="0.250" stop-color="rgb(191,191,191)"/><stop offset="0.300" stop-color="rgb(178,178,178)"/><stop offset="0.350" stop-color="rgb(165,165,165)"/><stop offset="0.400" stop-color="rgb(153,153,153)"/><stop offset="0.450" stop-color="rgb(140,140,140)"/><stop offset="0.500" stop-color="rgb(127,127,127)"/><stop offset="0.550" stop-color="rgb(114,114,114)"/><stop offset="0.600" stop-color="rgb(102,102,102)"/><stop offset="0.650" stop-color="rgb(89,89,89)"/><stop offset="0.700" stop-color="rgb(76,76,76)"/><stop offset="0.750" stop-color="rgb(63,63,63)"/><stop offset="0.800" stop-color="rgb(50,50,50)"/><stop offset="0.850" stop-color="rgb(38,38,38)"/><stop offset="0.900" stop-color="rgb(25,25,25)"/><stop offset="0.950" stop-color="rgb(12,12,12)"/><stop offset="1.000" stop-color="rgb(0,0,0)"/></linearGradient></defs>
<rect x="637.40" y="238.90" width="9.50" height="130.10" fill="url(#g637_238)" stroke="#333" stroke-width="1"/>
<line x1="646.90" y1="369.00" x2="649.10" y2="369.00" stroke="#000" stroke-width="1.1"/>
<text x="649.60" y="371.99" font-size="9.6" text-anchor="start" fill="#000">0%</text>
<line x1="646.90" y1="342.98" x2="649.10" y2="342.98" stroke="#000" stroke-width="1.1"/>
<text x="649.60" y="345.99" font-size="9.6" text-anchor="start" fill="#000">20%</text>
<line x1="646.90" y1="316.96" x2="649.10" y2="316.96" stroke="#000" stroke-width="1.1"/>
<text x="649.60" y="319.99" font-size="9.6" text-anchor="start" fill="#000">40%</text>
<line x1="646.90" y1="290.94" x2="649.10" y2="290.94" stroke="#000" stroke-width="1.1"/>
<text x="649.60" y="293.99" font-size="9.6" text-anchor="start" fill="#000">60%</text>
<line x1="646.90" y1="264.92" x2="649.10" y2="264.92" stroke="#000" stroke-width="1.1"/>
<text x="649.60" y="267.99" font-size="9.6" text-anchor="start" fill="#000">80%</text>
<line x1="646.90" y1="238.90" x2="649.10" y2="238.90" stroke="#000" stroke-width="1.1"/>
<path d="M759 0H478V1000Q330 880 112 812V1052Q250 1100 362 1192Q466 1290 514 1409H759Z" fill="#000" transform="translate(649.600 241.389) scale(0.004687 -0.004687)"/>
<text x="649.60" y="241.39" font-size="9.6" text-anchor="start" fill="#000"> 00%</text>
<text x="683.40" y="291.70" font-size="11.7" text-anchor="middle" fill="#000" transform="rotate(-90 683.40 291.70)">Accuracy (%)</text>
<text x="576.60" y="396.50" font-size="11.7" text-anchor="middle" fill="#000">Ground truth</text>
<text x="475.10" y="294.60" font-size="11.7" text-anchor="middle" fill="#000" transform="rotate(-90 475.10 294.60)">Predicted label</text>
<rect x="266.00" y="443.90" width="34.22" height="32.88" fill="rgb(0,0,0)"/>
<rect x="299.98" y="443.90" width="34.22" height="32.88" fill="rgb(0,0,0)"/>
<rect x="333.95" y="476.52" width="34.22" height="32.88" fill="rgb(0,0,0)"/>
<rect x="367.92" y="509.15" width="34.22" height="32.88" fill="rgb(42,42,42)"/>
<rect x="367.92" y="541.77" width="34.22" height="32.88" fill="rgb(224,224,224)"/>
<rect x="266.00" y="443.90" width="135.90" height="130.50" fill="none" stroke="#000" stroke-width="1.4"/>
<line x1="266.00" y1="558.09" x2="268.20" y2="558.09" stroke="#000" stroke-width="1.1"/>
<line x1="282.99" y1="574.40" x2="282.99" y2="572.20" stroke="#000" stroke-width="1.1"/>
<text x="263.60" y="560.40" font-size="8.5" text-anchor="end" fill="#000">Normal</text>
<text x="282.99" y="584.00" font-size="8.5" text-anchor="middle" fill="#000">Normal</text>
<line x1="266.00" y1="525.46" x2="268.20" y2="525.46" stroke="#000" stroke-width="1.1"/>
<line x1="316.96" y1="574.40" x2="316.96" y2="572.20" stroke="#000" stroke-width="1.1"/>
<text x="263.60" y="528.50" font-size="8.5" text-anchor="end" fill="#000">CAD</text>
<text x="316.96" y="584.00" font-size="8.5" text-anchor="middle" fill="#000">CAD</text>
<line x1="266.00" y1="492.84" x2="268.20" y2="492.84" stroke="#000" stroke-width="1.1"/>
<line x1="350.94" y1="574.40" x2="350.94" y2="572.20" stroke="#000" stroke-width="1.1"/>
<text x="263.60" y="495.40" font-size="8.5" text-anchor="end" fill="#000">MI</text>
<text x="350.94" y="584.00" font-size="8.5" text-anchor="middle" fill="#000">MI</text>
<line x1="266.00" y1="460.21" x2="268.20" y2="460.21" stroke="#000" stroke-width="1.1"/>
<line x1="384.91" y1="574.40" x2="384.91" y2="572.20" stroke="#000" stroke-width="1.1"/>
<text x="263.60" y="463.10" font-size="8.5" text-anchor="end" fill="#000">CAVB</text>
<text x="384.91" y="584.00" font-size="8.5" text-anchor="middle" fill="#000">CAVB</text>
<defs><linearGradient id="g410_443" x1="0" y1="1" x2="0" y2="0"><stop offset="0.000" stop-color="rgb(255,255,255)"/><stop offset="0.050" stop-color="rgb(242,242,242)"/><stop offset="0.100" stop-color="rgb(229,229,229)"/><stop offset="0.150" stop-color="rgb(216,216,216)"/><stop offset="0.200" stop-color="rgb(204,204,204)"/><stop offset="0.250" stop-color="rgb(191,191,191)"/><stop offset="0.300" stop-color="rgb(178,178,178)"/><stop offset="0.350" stop-color="rgb(165,165,165)"/><stop offset="0.400" stop-color="rgb(153,153,153)"/><stop offset="0.450" stop-color="rgb(140,140,140)"/><stop offset="0.500" stop-color="rgb(127,127,127)"/><stop offset="0.550" stop-color="rgb(114,114,114)"/><stop offset="0.600" stop-color="rgb(102,102,102)"/><stop offset="0.650" stop-color="rgb(89,89,89)"/><stop offset="0.700" stop-color="rgb(76,76,76)"/><stop offset="0.750" stop-color="rgb(63,63,63)"/><stop offset="0.800" stop-color="rgb(50,50,50)"/><stop offset="0.850" stop-color="rgb(38,38,38)"/><stop offset="0.900" stop-color="rgb(25,25,25)"/><stop offset="0.950" stop-color="rgb(12,12,12)"/><stop offset="1.000" stop-color="rgb(0,0,0)"/></linearGradient></defs>
<rect x="410.20" y="443.40" width="8.90" height="130.60" fill="url(#g410_443)" stroke="#333" stroke-width="1"/>
<line x1="419.10" y1="574.00" x2="421.30" y2="574.00" stroke="#000" stroke-width="1.1"/>
<text x="422.20" y="576.69" font-size="9.6" text-anchor="start" fill="#000">0%</text>
<line x1="419.10" y1="547.88" x2="421.30" y2="547.88" stroke="#000" stroke-width="1.1"/>
<text x="422.20" y="550.69" font-size="9.6" text-anchor="start" fill="#000">20%</text>
<line x1="419.10" y1="521.76" x2="421.30" y2="521.76" stroke="#000" stroke-width="1.1"/>
<text x="422.20" y="524.79" font-size="9.6" text-anchor="start" fill="#000">40%</text>
<line x1="419.10" y1="495.64" x2="421.30" y2="495.64" stroke="#000" stroke-width="1.1"/>
<text x="422.20" y="498.79" font-size="9.6" text-anchor="start" fill="#000">60%</text>
<line x1="419.10" y1="469.52" x2="421.30" y2="469.52" stroke="#000" stroke-width="1.1"/>
<text x="422.20" y="472.79" font-size="9.6" text-anchor="start" fill="#000">80%</text>
<line x1="419.10" y1="443.40" x2="421.30" y2="443.40" stroke="#000" stroke-width="1.1"/>
<path d="M759 0H478V1000Q330 880 112 812V1052Q250 1100 362 1192Q466 1290 514 1409H759Z" fill="#000" transform="translate(422.200 446.789) scale(0.004687 -0.004687)"/>
<text x="422.20" y="446.79" font-size="9.6" text-anchor="start" fill="#000"> 00%</text>
<text x="452.80" y="499.50" font-size="11.7" text-anchor="middle" fill="#000" transform="rotate(-90 452.80 499.50)">Accuracy (%)</text>
<text x="343.40" y="598.40" font-size="11.7" text-anchor="middle" fill="#000">Ground truth</text>
<text x="242.90" y="507.70" font-size="11.7" text-anchor="middle" fill="#000" transform="rotate(-90 242.90 507.70)">Predicted label</text>
<line x1="300.00" y1="444.80" x2="300.00" y2="476.40" stroke="#161616" stroke-width="0.8"/>
<rect x="495.30" y="541.60" width="34.27" height="32.95" fill="rgb(0,0,0)"/>
<rect x="529.33" y="508.90" width="34.27" height="32.95" fill="rgb(0,0,0)"/>
<rect x="563.35" y="476.20" width="34.27" height="32.95" fill="rgb(0,0,0)"/>
<rect x="597.38" y="443.50" width="34.27" height="32.95" fill="rgb(0,0,0)"/>
<rect x="495.30" y="443.50" width="136.10" height="130.80" fill="none" stroke="#000" stroke-width="1.4"/>
<line x1="495.30" y1="557.95" x2="497.50" y2="557.95" stroke="#000" stroke-width="1.1"/>
<line x1="512.31" y1="574.30" x2="512.31" y2="572.10" stroke="#000" stroke-width="1.1"/>
<text x="493.30" y="560.20" font-size="8.5" text-anchor="end" fill="#000">Normal</text>
<text x="512.31" y="584.00" font-size="8.5" text-anchor="middle" fill="#000">Normal</text>
<line x1="495.30" y1="525.25" x2="497.50" y2="525.25" stroke="#000" stroke-width="1.1"/>
<line x1="546.34" y1="574.30" x2="546.34" y2="572.10" stroke="#000" stroke-width="1.1"/>
<text x="493.30" y="528.00" font-size="8.5" text-anchor="end" fill="#000">CAD</text>
<text x="546.34" y="584.00" font-size="8.5" text-anchor="middle" fill="#000">CAD</text>
<line x1="495.30" y1="492.55" x2="497.50" y2="492.55" stroke="#000" stroke-width="1.1"/>
<line x1="580.36" y1="574.30" x2="580.36" y2="572.10" stroke="#000" stroke-width="1.1"/>
<text x="493.30" y="495.60" font-size="8.5" text-anchor="end" fill="#000">MI</text>
<text x="580.36" y="584.00" font-size="8.5" text-anchor="middle" fill="#000">MI</text>
<line x1="495.30" y1="459.85" x2="497.50" y2="459.85" stroke="#000" stroke-width="1.1"/>
<line x1="614.39" y1="574.30" x2="614.39" y2="572.10" stroke="#000" stroke-width="1.1"/>
<text x="493.30" y="463.10" font-size="8.5" text-anchor="end" fill="#000">CAVB</text>
<text x="614.39" y="584.00" font-size="8.5" text-anchor="middle" fill="#000">CAVB</text>
<defs><linearGradient id="g639_443" x1="0" y1="1" x2="0" y2="0"><stop offset="0.000" stop-color="rgb(255,255,255)"/><stop offset="0.050" stop-color="rgb(242,242,242)"/><stop offset="0.100" stop-color="rgb(229,229,229)"/><stop offset="0.150" stop-color="rgb(216,216,216)"/><stop offset="0.200" stop-color="rgb(204,204,204)"/><stop offset="0.250" stop-color="rgb(191,191,191)"/><stop offset="0.300" stop-color="rgb(178,178,178)"/><stop offset="0.350" stop-color="rgb(165,165,165)"/><stop offset="0.400" stop-color="rgb(153,153,153)"/><stop offset="0.450" stop-color="rgb(140,140,140)"/><stop offset="0.500" stop-color="rgb(127,127,127)"/><stop offset="0.550" stop-color="rgb(114,114,114)"/><stop offset="0.600" stop-color="rgb(102,102,102)"/><stop offset="0.650" stop-color="rgb(89,89,89)"/><stop offset="0.700" stop-color="rgb(76,76,76)"/><stop offset="0.750" stop-color="rgb(63,63,63)"/><stop offset="0.800" stop-color="rgb(50,50,50)"/><stop offset="0.850" stop-color="rgb(38,38,38)"/><stop offset="0.900" stop-color="rgb(25,25,25)"/><stop offset="0.950" stop-color="rgb(12,12,12)"/><stop offset="1.000" stop-color="rgb(0,0,0)"/></linearGradient></defs>
<rect x="639.10" y="443.40" width="9.70" height="130.60" fill="url(#g639_443)" stroke="#333" stroke-width="1"/>
<line x1="648.80" y1="574.00" x2="651.00" y2="574.00" stroke="#000" stroke-width="1.1"/>
<text x="653.10" y="576.69" font-size="9.6" text-anchor="start" fill="#000">0%</text>
<line x1="648.80" y1="547.88" x2="651.00" y2="547.88" stroke="#000" stroke-width="1.1"/>
<text x="653.10" y="550.69" font-size="9.6" text-anchor="start" fill="#000">20%</text>
<line x1="648.80" y1="521.76" x2="651.00" y2="521.76" stroke="#000" stroke-width="1.1"/>
<text x="653.10" y="524.79" font-size="9.6" text-anchor="start" fill="#000">40%</text>
<line x1="648.80" y1="495.64" x2="651.00" y2="495.64" stroke="#000" stroke-width="1.1"/>
<text x="653.10" y="498.79" font-size="9.6" text-anchor="start" fill="#000">60%</text>
<line x1="648.80" y1="469.52" x2="651.00" y2="469.52" stroke="#000" stroke-width="1.1"/>
<text x="653.10" y="472.79" font-size="9.6" text-anchor="start" fill="#000">80%</text>
<line x1="648.80" y1="443.40" x2="651.00" y2="443.40" stroke="#000" stroke-width="1.1"/>
<path d="M759 0H478V1000Q330 880 112 812V1052Q250 1100 362 1192Q466 1290 514 1409H759Z" fill="#000" transform="translate(653.100 446.789) scale(0.004687 -0.004687)"/>
<text x="653.10" y="446.79" font-size="9.6" text-anchor="start" fill="#000"> 00%</text>
<text x="683.00" y="499.50" font-size="11.7" text-anchor="middle" fill="#000" transform="rotate(-90 683.00 499.50)">Accuracy (%)</text>
<text x="567.70" y="598.40" font-size="11.7" text-anchor="middle" fill="#000">Ground truth</text>
<text x="469.90" y="509.80" font-size="11.7" text-anchor="middle" fill="#000" transform="rotate(-90 469.90 509.80)">Predicted label</text>
<polyline points="60.40,568.10 65.80,568.60 68.50,567.70 72.00,562.70 76.50,558.70 81.90,552.50 87.30,549.80 92.70,547.10 95.40,546.50 98.90,548.00 123.10,548.00 128.50,549.80 133.90,548.00 141.30,548.00 147.50,544.70 152.90,544.40 160.10,541.70 221.00,541.70" fill="none" stroke="#b82a2a" stroke-width="1.8" stroke-linejoin="round" stroke-linecap="round"/>
<polyline points="60.40,557.80 62.20,557.00 64.90,546.20 67.60,539.90 70.20,537.20 72.00,538.70 73.80,538.10 75.60,532.70 77.40,519.30 79.20,508.50 98.00,508.50 102.50,505.80 106.10,504.00 112.40,502.30 117.80,495.10 123.10,487.00 128.50,482.50 133.90,477.10 138.60,473.50 142.20,470.00 144.90,463.70 148.40,456.50 150.20,455.10 158.30,454.40 163.70,452.00 167.30,450.20 181.60,450.80 185.20,449.00 190.60,446.70 196.00,445.60 221.00,445.60" fill="none" stroke="#000" stroke-width="1.9" stroke-linejoin="round" stroke-linecap="round"/>
<polyline points="60.40,566.80 63.10,566.80 66.70,557.00 70.20,542.60 72.90,528.30 74.70,510.30 76.20,504.00 79.20,504.90 81.90,504.00 87.30,504.00 91.80,495.10 98.00,491.50 103.40,486.10 108.80,482.50 112.40,478.90 115.10,470.90 119.60,459.20 124.90,452.90 128.50,453.80 133.90,452.00 138.60,452.90 145.80,453.30 152.90,452.00 160.10,450.20 169.10,448.40 185.20,448.40 190.60,446.70 196.00,445.80 221.00,445.80" fill="none" stroke="#10107f" stroke-width="1.9" stroke-linejoin="round" stroke-linecap="round"/>
<rect x="59.60" y="443.40" width="161.90" height="130.50" fill="none" stroke="#000" stroke-width="1.5"/>
<line x1="59.60" y1="547.80" x2="61.80" y2="547.80" stroke="#000" stroke-width="1.2"/>
<line x1="59.60" y1="521.70" x2="61.80" y2="521.70" stroke="#000" stroke-width="1.2"/>
<line x1="59.60" y1="495.60" x2="61.80" y2="495.60" stroke="#000" stroke-width="1.2"/>
<line x1="59.60" y1="469.50" x2="61.80" y2="469.50" stroke="#000" stroke-width="1.2"/>
<path d="M759 0H478V1000Q330 880 112 812V1052Q250 1100 362 1192Q466 1290 514 1409H759Z" fill="#000" transform="translate(36.713 447.459) scale(0.005615 -0.005615)"/>
<text x="55.90" y="447.46" font-size="11.5" text-anchor="end" fill="#000"> 00</text>
<text x="55.90" y="473.46" font-size="11.5" text-anchor="end" fill="#000">80</text>
<text x="55.90" y="500.06" font-size="11.5" text-anchor="end" fill="#000">60</text>
<text x="55.90" y="525.76" font-size="11.5" text-anchor="end" fill="#000">40</text>
<text x="55.90" y="551.56" font-size="11.5" text-anchor="end" fill="#000">20</text>
<text x="55.90" y="576.46" font-size="11.5" text-anchor="end" fill="#000">0</text>
<line x1="92.00" y1="573.90" x2="92.00" y2="571.70" stroke="#000" stroke-width="1.2"/>
<line x1="124.60" y1="573.90" x2="124.60" y2="571.70" stroke="#000" stroke-width="1.2"/>
<line x1="156.40" y1="573.90" x2="156.40" y2="571.70" stroke="#000" stroke-width="1.2"/>
<line x1="189.30" y1="573.90" x2="189.30" y2="571.70" stroke="#000" stroke-width="1.2"/>
<text x="58.20" y="586.66" font-size="11.5" text-anchor="middle" fill="#000">0</text>
<text x="91.40" y="586.66" font-size="11.5" text-anchor="middle" fill="#000">20</text>
<text x="123.60" y="586.66" font-size="11.5" text-anchor="middle" fill="#000">40</text>
<text x="156.30" y="586.66" font-size="11.5" text-anchor="middle" fill="#000">60</text>
<text x="188.60" y="586.66" font-size="11.5" text-anchor="middle" fill="#000">80</text>
<path d="M759 0H478V1000Q330 880 112 812V1052Q250 1100 362 1192Q466 1290 514 1409H759Z" fill="#000" transform="translate(212.606 586.659) scale(0.005615 -0.005615)"/>
<text x="222.20" y="586.66" font-size="11.5" text-anchor="middle" fill="#000"> 00</text>
<text x="145.60" y="595.50" font-size="11.6" text-anchor="middle" fill="#000">Epoch</text>
<text x="36.20" y="505.70" font-size="11.7" text-anchor="middle" fill="#000" transform="rotate(-90 36.20 505.70)">Accuracy (%)</text>
<line x1="101.80" y1="508.60" x2="117.50" y2="508.60" stroke="#000" stroke-width="2.0"/>
<text x="119.80" y="511.49" font-size="9.9" text-anchor="start" fill="#000">Dark</text>
<line x1="101.80" y1="519.90" x2="117.50" y2="519.90" stroke="#b82a2a" stroke-width="2.0"/>
<text x="119.80" y="522.79" font-size="9.9" text-anchor="start" fill="#000">Light</text>
<line x1="101.80" y1="531.40" x2="117.50" y2="531.40" stroke="#10107f" stroke-width="2.0"/>
<text x="119.80" y="534.29" font-size="9.9" text-anchor="start" fill="#000">Second-time training</text>
<polyline points="60.90,654.00 61.60,664.70 62.20,673.70 67.50,674.60 69.30,680.90 72.00,687.10 73.80,692.50 75.60,695.60 78.30,696.10 81.00,699.70 82.80,707.70 85.50,714.90 89.10,720.30 92.60,724.80 94.10,726.30 95.60,727.95 97.10,729.30 98.45,731.34 99.80,732.80 101.60,735.40 103.40,737.30 104.75,738.51 106.10,738.94 107.45,739.83 108.80,740.00 110.24,739.61 111.68,740.32 113.12,741.07 114.56,740.90 116.00,740.90 117.33,741.16 118.65,739.99 119.97,740.19 121.30,740.00 123.10,738.20 124.90,741.80 126.25,741.95 127.60,742.75 128.95,743.24 130.30,743.60 131.74,743.20 133.18,743.62 134.62,743.88 136.06,744.82 137.50,744.50 136.50,745.00 137.92,745.57 139.34,745.10 140.77,746.12 142.19,745.59 143.61,746.42 145.03,746.09 146.46,746.19 147.88,747.49 149.30,747.30 150.63,746.99 151.95,747.03 153.28,747.99 154.61,747.89 155.94,747.23 157.26,748.07 158.59,747.60 159.92,747.80 161.25,747.27 162.57,748.19 163.90,747.70 165.30,747.93 166.70,748.26 168.10,748.17 169.50,747.46 170.90,747.53 172.30,747.30 173.70,747.27 175.10,747.18 176.50,747.46 177.90,747.82 179.30,747.10 180.70,747.91 182.10,747.70 183.42,747.52 184.73,747.49 186.05,748.12 187.37,747.72 188.68,747.53 190.00,747.74 191.32,748.02 192.63,747.26 193.95,748.37 195.27,747.24 196.58,748.12 197.90,748.25 199.22,747.27 200.53,748.20 201.85,747.71 203.17,747.97 204.48,747.30 205.80,747.90 207.26,747.42 208.72,747.64 210.18,748.63 211.64,747.78 213.10,748.20 214.50,749.46 215.90,750.10 217.28,750.84 218.65,751.08 220.03,750.59 221.40,751.00" fill="none" stroke="#b82a2a" stroke-width="1.7" stroke-linejoin="round" stroke-linecap="round"/>
<polyline points="60.60,652.60 61.30,679.10 61.80,689.80 62.50,698.80 64.00,709.50 65.80,718.50 68.40,727.50 71.10,734.60 74.70,739.10 80.10,743.60 87.30,747.20 94.40,749.50 95.90,750.09 97.40,750.39 98.90,750.28 100.40,750.30 101.90,750.28 103.40,751.10 104.75,751.58 106.10,751.67 107.45,752.29 108.80,752.16 110.15,752.90 111.50,752.65 112.85,753.53 114.20,753.50 115.59,753.95 116.98,753.81 118.37,754.14 119.76,754.50 121.14,754.16 122.53,754.76 123.92,755.24 125.31,754.84 126.70,755.30 128.03,755.83 129.36,755.90 130.69,756.28 132.02,755.92 133.35,755.85 134.68,756.83 136.01,757.04 137.34,756.84 138.67,756.65 140.00,757.30 141.44,756.97 142.88,757.45 144.31,757.07 145.75,757.80 147.19,757.40 148.62,756.97 150.06,757.47 151.50,757.30 152.83,757.29 154.16,758.07 155.49,758.19 156.82,757.90 158.15,758.19 159.48,758.39 160.82,758.66 162.15,758.99 163.48,758.10 164.81,758.61 166.14,759.02 167.47,758.84 168.80,759.20 170.17,759.36 171.54,758.88 172.91,759.81 174.29,759.48 175.66,759.10 177.03,759.76 178.40,759.44 179.77,759.38 181.14,759.76 182.51,759.44 183.89,759.59 185.26,760.37 186.63,760.25 188.00,760.10 189.30,759.60 190.61,760.49 191.91,759.69 193.22,760.08 194.52,760.74 195.82,760.47 197.13,760.17 198.43,760.29 199.74,760.34 201.04,760.09 202.34,761.09 203.65,760.09 204.95,760.54 206.26,760.93 207.56,760.59 208.86,761.27 210.17,760.50 211.47,761.35 212.78,761.29 214.08,761.09 215.38,761.37 216.69,760.92 217.99,761.38 219.30,761.39 220.60,761.10" fill="none" stroke="#000" stroke-width="1.8" stroke-linejoin="round" stroke-linecap="round"/>
<polyline points="60.90,670.10 62.20,680.90 64.90,689.80 67.50,693.40 69.30,700.60 72.00,706.00 73.80,713.10 75.60,720.30 80.10,729.30 85.50,738.20 90.90,746.30 92.23,747.65 93.55,749.00 94.88,750.35 96.20,751.70 97.64,752.33 99.08,752.96 100.52,754.33 101.96,754.51 103.40,755.80 104.75,756.29 106.10,756.55 107.45,756.66 108.80,757.61 110.15,757.54 111.50,758.43 112.85,758.48 114.20,759.40 115.59,759.18 116.98,759.78 118.37,760.46 119.76,759.92 121.14,760.26 122.53,760.94 123.92,761.53 125.31,761.35 126.70,761.50 128.03,761.39 129.36,762.02 130.69,761.00 132.02,761.89 133.35,761.27 134.68,761.11 136.01,761.08 137.34,761.29 138.67,761.85 140.00,761.50 141.37,761.26 142.74,761.80 144.11,761.97 145.49,761.79 146.86,762.09 148.23,761.66 149.60,761.77 150.97,762.03 152.34,762.66 153.71,762.49 155.09,762.47 156.46,762.88 157.83,762.84 159.20,763.00 160.51,762.87 161.82,763.50 163.13,763.48 164.44,763.06 165.75,763.51 167.05,763.55 168.36,764.02 169.67,763.94 170.98,763.54 172.29,764.39 173.60,763.53 174.91,763.95 176.22,764.41 177.53,763.83 178.84,764.28 180.15,763.87 181.45,764.65 182.76,764.85 184.07,764.72 185.38,765.14 186.69,764.61 188.00,764.90 189.30,765.17 190.61,765.12 191.91,765.16 193.22,765.08 194.52,765.55 195.82,765.73 197.13,765.26 198.43,765.53 199.74,764.92 201.04,765.68 202.34,765.68 203.65,766.11 204.95,765.98 206.26,765.45 207.56,765.61 208.86,765.98 210.17,765.33 211.47,765.87 212.78,765.60 214.08,765.60 215.38,765.59 216.69,766.43 217.99,765.78 219.30,765.97 220.60,766.30" fill="none" stroke="#10107f" stroke-width="1.8" stroke-linejoin="round" stroke-linecap="round"/>
<rect x="60.30" y="652.30" width="161.70" height="129.50" fill="none" stroke="#000" stroke-width="1.5"/>
<line x1="60.30" y1="755.90" x2="62.50" y2="755.90" stroke="#000" stroke-width="1.2"/>
<line x1="60.30" y1="730.00" x2="62.50" y2="730.00" stroke="#000" stroke-width="1.2"/>
<line x1="60.30" y1="704.10" x2="62.50" y2="704.10" stroke="#000" stroke-width="1.2"/>
<line x1="60.30" y1="678.20" x2="62.50" y2="678.20" stroke="#000" stroke-width="1.2"/>
<path d="M759 0H478V1000Q330 880 112 812V1052Q250 1100 362 1192Q466 1290 514 1409H759Z" fill="#000" transform="translate(44.008 655.059) scale(0.005615 -0.005615)"/>
<text x="56.80" y="655.06" font-size="11.5" text-anchor="end" fill="#000"> 0</text>
<text x="56.80" y="680.76" font-size="11.5" text-anchor="end" fill="#000">8</text>
<text x="56.80" y="707.46" font-size="11.5" text-anchor="end" fill="#000">6</text>
<text x="56.80" y="734.26" font-size="11.5" text-anchor="end" fill="#000">4</text>
<text x="56.80" y="760.06" font-size="11.5" text-anchor="end" fill="#000">2</text>
<text x="56.80" y="785.66" font-size="11.5" text-anchor="end" fill="#000">0</text>
<line x1="100.30" y1="781.80" x2="100.30" y2="779.60" stroke="#000" stroke-width="1.2"/>
<line x1="141.10" y1="781.80" x2="141.10" y2="779.60" stroke="#000" stroke-width="1.2"/>
<line x1="181.40" y1="781.80" x2="181.40" y2="779.60" stroke="#000" stroke-width="1.2"/>
<text x="61.70" y="794.26" font-size="11.5" text-anchor="middle" fill="#000">0</text>
<text x="103.20" y="794.26" font-size="11.5" text-anchor="middle" fill="#000">50</text>
<path d="M759 0H478V1000Q330 880 112 812V1052Q250 1100 362 1192Q466 1290 514 1409H759Z" fill="#000" transform="translate(135.706 794.260) scale(0.005615 -0.005615)"/>
<text x="145.30" y="794.26" font-size="11.5" text-anchor="middle" fill="#000"> 00</text>
<path d="M759 0H478V1000Q330 880 112 812V1052Q250 1100 362 1192Q466 1290 514 1409H759Z" fill="#000" transform="translate(176.406 794.260) scale(0.005615 -0.005615)"/>
<text x="186.00" y="794.26" font-size="11.5" text-anchor="middle" fill="#000"> 50</text>
<text x="226.70" y="794.26" font-size="11.5" text-anchor="middle" fill="#000">200</text>
<text x="151.70" y="804.90" font-size="11.6" text-anchor="middle" fill="#000">Epoch</text>
<text x="38.5" y="714.8" font-size="11.7" text-anchor="middle" transform="rotate(-90 38.5 714.8)">Mean square error (10<tspan dy="-4.5" font-size="7.2">-4</tspan><tspan dy="4.5">)</tspan></text>
<line x1="99.50" y1="672.80" x2="114.20" y2="672.80" stroke="#000" stroke-width="2.0"/>
<text x="117.00" y="675.89" font-size="9.9" text-anchor="start" fill="#000">Dark</text>
<line x1="99.50" y1="684.10" x2="114.20" y2="684.10" stroke="#b82a2a" stroke-width="2.0"/>
<text x="117.00" y="687.19" font-size="9.9" text-anchor="start" fill="#000">Light</text>
<line x1="99.50" y1="695.60" x2="114.20" y2="695.60" stroke="#10107f" stroke-width="2.0"/>
<text x="117.00" y="698.69" font-size="9.9" text-anchor="start" fill="#000">Second-time training</text>
<polyline points="275.30,717.60 276.60,725.50 277.90,732.00 279.20,726.80 281.20,729.40 283.10,734.70 285.10,738.60 286.40,745.80 288.40,741.20 290.40,736.00 292.30,739.90 294.30,713.00 295.60,729.40 297.60,729.40 298.90,724.20 300.90,698.50 302.20,724.20 304.20,724.80 306.80,713.60 308.10,716.30 309.40,721.50 311.40,724.80 312.70,728.10 314.70,718.20 316.60,715.60 319.30,714.30 321.20,729.40 323.20,728.80 324.50,717.60 326.50,732.00 328.50,718.20 330.40,729.40 332.40,732.00 334.40,729.40 337.00,728.80 339.60,727.40 342.30,722.20 344.90,730.70 346.90,718.20 348.80,736.00 350.80,722.80 352.80,732.70 355.40,724.20 357.50,724.70 360.00,720.40 362.40,719.20 364.90,717.30 366.80,719.20 368.60,721.00 370.50,728.50 371.80,732.80 373.60,729.70 376.10,732.20 379.20,729.70 381.70,736.50 384.20,725.40 386.00,729.70 388.50,732.20 391.00,734.00 393.50,732.20 397.20,730.90 400.30,730.90 401.50,722.90 404.00,721.00 406.50,718.50 408.40,723.50 410.20,709.90 412.10,717.30 413.90,719.80 415.80,729.70 417.70,723.50 419.50,730.90 422.00,727.20 423.90,721.60 425.70,729.70 428.20,722.90 430.10,730.90 432.60,722.90 434.40,730.90 436.30,727.20" fill="none" stroke="#ff2a2a" stroke-width="1.05" stroke-linejoin="round" stroke-linecap="round" stroke-dasharray="1,1.5" stroke-linecap="butt"/>
<polyline points="275.30,716.90 276.60,716.30 277.90,719.60 279.20,722.80 281.20,724.40 283.10,728.10 285.10,730.10 286.40,733.40 288.40,737.30 290.40,734.00 292.30,732.70 293.60,732.00 295.00,728.80 296.90,730.70 298.20,728.10 300.20,716.90 302.20,718.90 304.20,722.80 306.10,720.20 308.10,716.90 310.10,718.90 312.00,723.50 313.40,725.50 315.30,721.50 317.30,723.50 319.30,729.40 321.20,733.40 323.20,734.70 325.20,736.00 327.20,735.30 329.10,738.00 331.10,736.00 333.10,735.30 335.00,738.00 337.00,739.70 339.00,738.00 340.90,739.30 342.90,736.60 344.90,736.60 346.90,734.70 348.80,733.40 350.80,730.10 352.80,730.10 354.70,725.50 356.90,726.00 358.10,720.40 360.00,715.40 361.80,713.00 363.70,716.10 365.50,711.30 367.40,719.80 369.30,721.60 371.10,727.20 373.00,726.60 374.90,731.00 376.70,732.80 378.00,734.00 379.80,732.20 381.10,734.70 383.50,730.90 385.40,729.70 387.30,732.20 389.70,734.00 391.60,729.70 393.50,731.60 396.00,724.70 397.80,727.20 399.70,720.40 401.50,717.30 403.40,720.40 405.90,714.80 407.70,719.20 409.60,713.60 411.50,716.70 413.30,719.80 415.20,723.50 417.00,726.00 418.90,729.70 420.80,732.80 422.60,733.40 424.50,731.60 426.30,734.00 428.20,730.90 430.10,733.40 431.90,730.90 433.80,732.80 435.70,730.90" fill="none" stroke="#000" stroke-width="1.4" stroke-linejoin="round" stroke-linecap="round"/>
<rect x="274.40" y="651.60" width="161.90" height="130.00" fill="none" stroke="#000" stroke-width="1.5"/>
<line x1="274.40" y1="749.10" x2="276.60" y2="749.10" stroke="#000" stroke-width="1.2"/>
<line x1="274.40" y1="716.60" x2="276.60" y2="716.60" stroke="#000" stroke-width="1.2"/>
<line x1="274.40" y1="684.10" x2="276.60" y2="684.10" stroke="#000" stroke-width="1.2"/>
<text x="272.80" y="655.36" font-size="11.5" text-anchor="end" fill="#000">0.5</text>
<text x="272.80" y="687.96" font-size="11.5" text-anchor="end" fill="#000">0.4</text>
<text x="272.80" y="719.86" font-size="11.5" text-anchor="end" fill="#000">0.3</text>
<text x="272.80" y="752.86" font-size="11.5" text-anchor="end" fill="#000">0.2</text>
<path d="M759 0H478V1000Q330 880 112 812V1052Q250 1100 362 1192Q466 1290 514 1409H759Z" fill="#000" transform="translate(266.404 784.760) scale(0.005615 -0.005615)"/>
<text x="272.80" y="784.76" font-size="11.5" text-anchor="end" fill="#000">0. </text>
<line x1="314.88" y1="781.60" x2="314.88" y2="779.40" stroke="#000" stroke-width="1.2"/>
<line x1="355.35" y1="781.60" x2="355.35" y2="779.40" stroke="#000" stroke-width="1.2"/>
<line x1="395.82" y1="781.60" x2="395.82" y2="779.40" stroke="#000" stroke-width="1.2"/>
<text x="274.20" y="794.26" font-size="11.5" text-anchor="middle" fill="#000">40</text>
<text x="314.90" y="794.26" font-size="11.5" text-anchor="middle" fill="#000">60</text>
<text x="355.60" y="794.26" font-size="11.5" text-anchor="middle" fill="#000">80</text>
<path d="M759 0H478V1000Q330 880 112 812V1052Q250 1100 362 1192Q466 1290 514 1409H759Z" fill="#000" transform="translate(388.106 794.260) scale(0.005615 -0.005615)"/>
<text x="397.70" y="794.26" font-size="11.5" text-anchor="middle" fill="#000"> 00</text>
<path d="M759 0H478V1000Q330 880 112 812V1052Q250 1100 362 1192Q466 1290 514 1409H759Z" fill="#000" transform="translate(430.106 794.260) scale(0.005615 -0.005615)"/>
<text x="439.70" y="794.26" font-size="11.5" text-anchor="middle" fill="#000"> 20</text>
<text x="364.50" y="805.60" font-size="11.6" text-anchor="middle" fill="#000">Datapoints</text>
<text x="248.40" y="710.80" font-size="11.8" text-anchor="middle" fill="#000" transform="rotate(-90 248.40 710.80)">Voltage(V)</text>
<line x1="283.00" y1="671.40" x2="303.50" y2="671.40" stroke="#000" stroke-width="1.4"/>
<text x="305.00" y="674.89" font-size="9.9" text-anchor="start" fill="#000">Ground truth</text>
<line x1="283.00" y1="682.40" x2="300.50" y2="682.40" stroke="#ff2a2a" stroke-width="1.1" stroke-dasharray="1.1,1.4"/>
<text x="305.00" y="686.39" font-size="9.9" text-anchor="start" fill="#000">Light</text>
<polyline points="496.40,716.90 497.70,714.94 499.00,719.60 500.30,722.80 502.30,724.63 504.20,728.10 506.20,730.10 507.50,732.72 509.50,737.30 511.50,734.00 513.40,733.24 514.70,732.00 516.10,728.80 518.00,731.35 519.30,728.10 521.30,716.90 523.30,716.64 525.30,722.80 527.20,720.20 529.20,714.37 531.20,718.90 533.10,723.50 534.50,727.25 536.40,721.50 538.40,723.50 540.40,728.15 542.30,733.40 544.30,734.70 546.30,734.62 548.30,735.30 550.20,738.00 552.20,738.58 554.20,735.30 556.10,738.00 558.10,739.55 560.10,738.00 562.00,739.30 564.00,738.35 566.00,736.60 568.00,734.70 569.90,733.28 571.90,730.10 573.90,730.10 575.80,726.22 578.00,726.00 579.20,720.40 581.10,713.58 582.90,713.00 584.80,716.10 586.60,712.00 588.50,719.80 590.40,721.60 592.20,729.11 594.10,726.60 596.00,731.00 597.80,732.92 599.10,734.00 600.90,732.20 602.20,735.95 604.60,730.90 606.50,729.70 608.40,733.09 610.80,734.00 612.70,729.70 614.60,729.33 617.10,724.70 618.90,727.20 620.80,721.74 622.60,717.30 624.50,720.40 627.00,715.27 628.80,719.20 630.70,713.60 632.60,715.67 634.40,719.80 636.30,723.50 638.10,723.56 640.00,729.70 641.90,732.80 643.70,735.30 645.60,731.60 647.40,734.00 649.30,730.76 651.20,733.40 653.00,730.90 654.90,733.94 656.80,730.90" fill="none" stroke="#ff2a2a" stroke-width="1.05" stroke-linejoin="round" stroke-linecap="round" stroke-dasharray="1,1.5" stroke-linecap="butt"/>
<polyline points="496.40,716.90 497.70,716.30 499.00,719.60 500.30,722.80 502.30,724.40 504.20,728.10 506.20,730.10 507.50,733.40 509.50,737.30 511.50,734.00 513.40,732.70 514.70,732.00 516.10,728.80 518.00,730.70 519.30,728.10 521.30,716.90 523.30,718.90 525.30,722.80 527.20,720.20 529.20,716.90 531.20,718.90 533.10,723.50 534.50,725.50 536.40,721.50 538.40,723.50 540.40,729.40 542.30,733.40 544.30,734.70 546.30,736.00 548.30,735.30 550.20,738.00 552.20,736.00 554.20,735.30 556.10,738.00 558.10,739.70 560.10,738.00 562.00,739.30 564.00,736.60 566.00,736.60 568.00,734.70 569.90,733.40 571.90,730.10 573.90,730.10 575.80,725.50 578.00,726.00 579.20,720.40 581.10,715.40 582.90,713.00 584.80,716.10 586.60,711.30 588.50,719.80 590.40,721.60 592.20,727.20 594.10,726.60 596.00,731.00 597.80,732.80 599.10,734.00 600.90,732.20 602.20,734.70 604.60,730.90 606.50,729.70 608.40,732.20 610.80,734.00 612.70,729.70 614.60,731.60 617.10,724.70 618.90,727.20 620.80,720.40 622.60,717.30 624.50,720.40 627.00,714.80 628.80,719.20 630.70,713.60 632.60,716.70 634.40,719.80 636.30,723.50 638.10,726.00 640.00,729.70 641.90,732.80 643.70,733.40 645.60,731.60 647.40,734.00 649.30,730.90 651.20,733.40 653.00,730.90 654.90,732.80 656.80,730.90" fill="none" stroke="#222" stroke-width="1.4" stroke-linejoin="round" stroke-linecap="round"/>
<rect x="495.50" y="651.40" width="161.80" height="130.10" fill="none" stroke="#000" stroke-width="1.5"/>
<line x1="495.50" y1="748.98" x2="497.70" y2="748.98" stroke="#000" stroke-width="1.2"/>
<line x1="495.50" y1="716.45" x2="497.70" y2="716.45" stroke="#000" stroke-width="1.2"/>
<line x1="495.50" y1="683.92" x2="497.70" y2="683.92" stroke="#000" stroke-width="1.2"/>
<text x="494.40" y="655.36" font-size="11.5" text-anchor="end" fill="#000">0.5</text>
<text x="494.40" y="688.06" font-size="11.5" text-anchor="end" fill="#000">0.4</text>
<text x="494.40" y="720.66" font-size="11.5" text-anchor="end" fill="#000">0.3</text>
<text x="494.40" y="753.36" font-size="11.5" text-anchor="end" fill="#000">0.2</text>
<path d="M759 0H478V1000Q330 880 112 812V1052Q250 1100 362 1192Q466 1290 514 1409H759Z" fill="#000" transform="translate(488.004 785.559) scale(0.005615 -0.005615)"/>
<text x="494.40" y="785.56" font-size="11.5" text-anchor="end" fill="#000">0. </text>
<line x1="515.73" y1="781.50" x2="515.73" y2="779.30" stroke="#000" stroke-width="1.2"/>
<line x1="535.95" y1="781.50" x2="535.95" y2="779.30" stroke="#000" stroke-width="1.2"/>
<line x1="556.17" y1="781.50" x2="556.17" y2="779.30" stroke="#000" stroke-width="1.2"/>
<line x1="576.40" y1="781.50" x2="576.40" y2="779.30" stroke="#000" stroke-width="1.2"/>
<line x1="596.62" y1="781.50" x2="596.62" y2="779.30" stroke="#000" stroke-width="1.2"/>
<line x1="616.85" y1="781.50" x2="616.85" y2="779.30" stroke="#000" stroke-width="1.2"/>
<line x1="637.07" y1="781.50" x2="637.07" y2="779.30" stroke="#000" stroke-width="1.2"/>
<text x="496.70" y="793.66" font-size="11.5" text-anchor="middle" fill="#000">40</text>
<text x="537.60" y="793.66" font-size="11.5" text-anchor="middle" fill="#000">60</text>
<text x="577.80" y="793.66" font-size="11.5" text-anchor="middle" fill="#000">80</text>
<path d="M759 0H478V1000Q330 880 112 812V1052Q250 1100 362 1192Q466 1290 514 1409H759Z" fill="#000" transform="translate(610.306 793.659) scale(0.005615 -0.005615)"/>
<text x="619.90" y="793.66" font-size="11.5" text-anchor="middle" fill="#000"> 00</text>
<path d="M759 0H478V1000Q330 880 112 812V1052Q250 1100 362 1192Q466 1290 514 1409H759Z" fill="#000" transform="translate(650.006 793.659) scale(0.005615 -0.005615)"/>
<text x="659.60" y="793.66" font-size="11.5" text-anchor="middle" fill="#000"> 20</text>
<text x="582.80" y="805.40" font-size="11.6" text-anchor="middle" fill="#000">Datapoints</text>
<text x="470.00" y="707.50" font-size="11.8" text-anchor="middle" fill="#000" transform="rotate(-90 470.00 707.50)">Voltage(V)</text>
<line x1="514.20" y1="671.90" x2="534.00" y2="671.90" stroke="#222" stroke-width="1.4"/>
<text x="535.70" y="675.39" font-size="9.9" text-anchor="start" fill="#000">Ground truth</text>
<line x1="514.20" y1="683.50" x2="531.00" y2="683.50" stroke="#ff2a2a" stroke-width="1.1" stroke-dasharray="1.1,1.4"/>
<text x="535.70" y="687.49" font-size="9.9" text-anchor="start" fill="#000">Second-time training</text>
</svg></body></html>
